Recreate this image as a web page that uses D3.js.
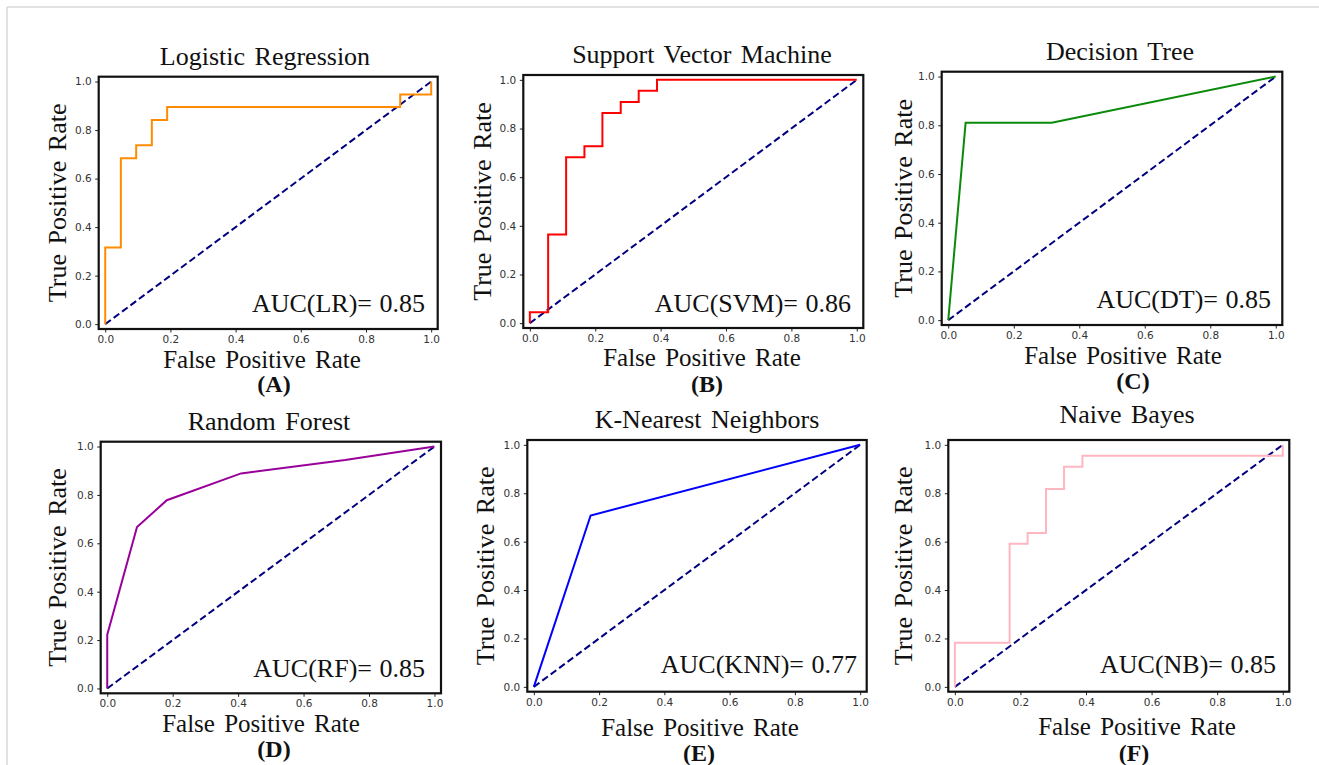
<!DOCTYPE html>
<html>
<head>
<meta charset="utf-8">
<script src="https://cdn.jsdelivr.net/npm/d3@7"></script>
<style>
  body { margin: 0; background: #fff; }
  .tick text { font-family: "DejaVu Sans", sans-serif; font-size: 10.5px; fill: #333; }
  .tick line { stroke: #222; }
  .serif { font-family: "Liberation Serif", "Times New Roman", serif; fill: #111; word-spacing: 3px; }
</style>
</head>
<body>
<div id="chart"></div>
<script>
const width = 1319, height = 765;

// ROC curve points
const lrFpr  = [0, 0, 0.048, 0.048, 0.095, 0.095, 0.143, 0.143, 0.190, 0.190, 0.905, 0.905, 1.0, 1.0];
const lrTpr  = [0, 0.316, 0.316, 0.684, 0.684, 0.737, 0.737, 0.842, 0.842, 0.895, 0.895, 0.947, 0.947, 1.0];
const svmFpr = [0, 0, 0.056, 0.056, 0.111, 0.111, 0.167, 0.167, 0.222, 0.222, 0.278, 0.278, 0.333, 0.333, 0.389, 0.389, 1.0];
const svmTpr = [0, 0.045, 0.045, 0.364, 0.364, 0.682, 0.682, 0.727, 0.727, 0.864, 0.864, 0.909, 0.909, 0.955, 0.955, 1.0, 1.0];
const dtFpr  = [0, 0.053, 0.316, 1.0];
const dtTpr  = [0, 0.810, 0.810, 1.0];
const rfFpr  = [0, 0, 0.091, 0.182, 0.409, 0.727, 1.0];
const rfTpr  = [0, 0.222, 0.667, 0.778, 0.889, 0.944, 1.0];
const knnFpr = [0, 0.174, 1.0];
const knnTpr = [0, 0.708, 1.0];
const nbFpr  = [0, 0, 0.167, 0.167, 0.222, 0.222, 0.278, 0.278, 0.333, 0.333, 0.389, 0.389, 1.0, 1.0];
const nbTpr  = [0, 0.182, 0.182, 0.591, 0.591, 0.636, 0.636, 0.818, 0.818, 0.909, 0.909, 0.955, 0.955, 1.0];

const titles  = ["Logistic Regression", "Support Vector Machine", "Decision Tree", "Random Forest", "K-Nearest Neighbors", "Naive Bayes"];
const aucText = ["AUC(LR)= 0.85", "AUC(SVM)= 0.86", "AUC(DT)= 0.85", "AUC(RF)= 0.85", "AUC(KNN)= 0.77", "AUC(NB)= 0.85"];
const letters = ["(A)", "(B)", "(C)", "(D)", "(E)", "(F)"];
const fprs = [lrFpr, svmFpr, dtFpr, rfFpr, knnFpr, nbFpr];
const tprs = [lrTpr, svmTpr, dtTpr, rfTpr, knnTpr, nbTpr];
const diagonal = [0, 1];
const ticks = [0, 0.2, 0.4, 0.6, 0.8, 1.0];

const colors = ["#ff8c00", "#ff0000", "#0a8a0a", "#990099", "#0000ff", "#ffb6c1"];

// panel layout: frame box, title / label positions
const panels = [
    { x0: 98.7, x1: 437.7, y0: 76.7, y1: 329, tx: 265, ty: 65, yl: 57, xl: 262, xly: 368, lx: 274, ly: 392, ar: 425, ab: 312 },
    { x0: 523.3, x1: 863.3, y0: 75, y1: 328, tx: 702, ty: 63, yl: 482, xl: 702, xly: 366, lx: 707, ly: 392, ar: 851, ab: 312 },
    { x0: 941.7, x1: 1282.3, y0: 71.7, y1: 325, tx: 1120, ty: 60, yl: 903, xl: 1123, xly: 364, lx: 1133, ly: 389, ar: 1271, ab: 308 },
    { x0: 100.7, x1: 441, y0: 441.7, y1: 693.3, tx: 269, ty: 430, yl: 57, xl: 261, xly: 732, lx: 274, ly: 757, ar: 425, ab: 677 },
    { x0: 527.3, x1: 866.7, y0: 440, y1: 691.7, tx: 707, ty: 428, yl: 485, xl: 700, xly: 736, lx: 699, ly: 761, ar: 857, ab: 673 },
    { x0: 948.3, x1: 1289.3, y0: 440, y1: 691.7, tx: 1127, ty: 423, yl: 903, xl: 1137, xly: 735, lx: 1134, ly: 761, ar: 1276, ab: 673 }
];

const svg = d3.select("#chart")
    .append("svg")
    .attr("width", width)
    .attr("height", height);

// page frame (top and left edges)
svg.append("line").attr("x1", 7).attr("x2", width).attr("y1", 7).attr("y2", 7)
    .style("stroke", "#d8d8d8").style("stroke-width", 1.5);
svg.append("line").attr("x1", 7).attr("x2", 7).attr("y1", 7).attr("y2", height)
    .style("stroke", "#d8d8d8").style("stroke-width", 1.5);

panels.forEach((p, i) => {
    const g = svg.append("g");

    const x = d3.scaleLinear().domain([-0.02, 1.02]).range([p.x0, p.x1]);
    const y = d3.scaleLinear().domain([-0.02, 1.02]).range([p.y1, p.y0]);

    g.append("g")
        .attr("transform", `translate(0,${p.y1})`)
        .call(d3.axisBottom(x).tickValues(ticks).tickFormat(d3.format(".1f")).tickSize(3.5).tickPadding(3))
        .call(a => a.select(".domain").remove());

    g.append("g")
        .attr("transform", `translate(${p.x0},0)`)
        .call(d3.axisLeft(y).tickValues(ticks).tickFormat(d3.format(".1f")).tickSize(3.5).tickPadding(3.5))
        .call(a => a.select(".domain").remove());

    const line = d3.line()
        .x(d => x(d[0]))
        .y(d => y(d[1]));

    g.append("path")
        .attr("d", line(diagonal.map(v => [v, v])))
        .style("fill", "none")
        .style("stroke", "navy")
        .style("stroke-width", 2)
        .style("stroke-dasharray", "7,3.5");

    g.append("path")
        .attr("d", line(fprs[i].map((f, j) => [f, tprs[i][j]])))
        .style("fill", "none")
        .style("stroke", colors[i])
        .style("stroke-width", 2);

    g.append("rect")
        .attr("x", p.x0).attr("y", p.y0)
        .attr("width", p.x1 - p.x0).attr("height", p.y1 - p.y0)
        .style("fill", "none").style("stroke", "#111").style("stroke-width", 2.2);

    g.append("text").attr("class", "serif")
        .attr("x", p.tx).attr("y", p.ty)
        .attr("text-anchor", "middle")
        .style("font-size", "26px")
        .text(titles[i]);

    g.append("text").attr("class", "serif")
        .attr("transform", `translate(${p.yl + 9},${(p.y0 + p.y1) / 2}) rotate(-90)`)
        .attr("text-anchor", "middle")
        .style("font-size", "26px")
        .text("True Positive Rate");

    g.append("text").attr("class", "serif")
        .attr("x", p.xl).attr("y", p.xly)
        .attr("text-anchor", "middle")
        .style("font-size", "25px")
        .text("False Positive Rate");

    g.append("text").attr("class", "serif")
        .attr("x", p.ar).attr("y", p.ab)
        .attr("text-anchor", "end")
        .style("font-size", "26px")
        .style("word-spacing", "1px")
        .text(aucText[i]);

    g.append("text").attr("class", "serif")
        .attr("x", p.lx).attr("y", p.ly)
        .attr("text-anchor", "middle")
        .style("font-size", "24px")
        .style("font-weight", "bold")
        .text(letters[i]);
});
</script>
</body>
</html>
